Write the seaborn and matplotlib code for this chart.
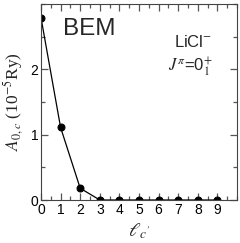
import numpy as np
import pandas as pd
import matplotlib
matplotlib.use("Agg")
import matplotlib.pyplot as plt
import seaborn as sns
from matplotlib.ticker import MultipleLocator

# data
l_values = [0, 1, 2, 3, 4, 5, 6, 7, 8, 9]
amplitudes = [2.79, 1.11, 0.18, 0.0, 0.0, 0.0, 0.0, 0.0, 0.0, 0.0]

df = pd.DataFrame({"l": l_values, "A": amplitudes})

sns.set_style("ticks")
plt.rcParams["font.family"] = ["Liberation Sans", "DejaVu Sans"]
plt.rcParams["mathtext.fontset"] = "stix"
plt.rcParams["xtick.direction"] = "in"
plt.rcParams["ytick.direction"] = "in"

fig = plt.figure(figsize=(2.40, 2.43), dpi=100)
ax = fig.add_axes([41 / 240, 1 - 200 / 243, 196 / 240, 196 / 243])

sns.lineplot(data=df, x="l", y="A", ax=ax, color="black", linewidth=0.9,
             marker="o", markersize=5, markeredgecolor="black", markerfacecolor="black")

ax.set_xlim(0, 10)
ax.set_ylim(0, 3)
ax.set_xticks(range(0, 10))
ax.set_yticks([0, 1, 2])
ax.xaxis.set_minor_locator(MultipleLocator(0.5))
ax.yaxis.set_minor_locator(MultipleLocator(0.5))
ax.tick_params(which="both", direction="in", top=True, right=True,
               bottom=True, left=True, labelsize=10, colors="black", pad=2)
ax.tick_params(which="major", length=5, width=0.9, color="#555555")
ax.tick_params(which="minor", length=3, width=0.9, color="#555555")
for s in ax.spines.values():
    s.set_linewidth(0.8)
    s.set_color("#444444")

ax.set_xlabel(r"$\ell_{c'}$", fontsize=14, labelpad=3)
ax.set_ylabel(r"$A_{\mathit{0,c}}$ (10$^{-5}$Ry)", fontsize=12.5,
              family="Liberation Serif", labelpad=4)

ax.text(1.1, 2.62, "BEM", fontsize=17.5, ha="left", va="center")
ax.text(8.75, 2.42, "LiCl$^{-}$", fontsize=12, ha="right", va="center")
ax.text(8.75, 2.03, r"$J^{\pi}$=0$^{+}_{1}$", fontsize=12, ha="right", va="center")

fig.savefig("out.png", dpi=100)
